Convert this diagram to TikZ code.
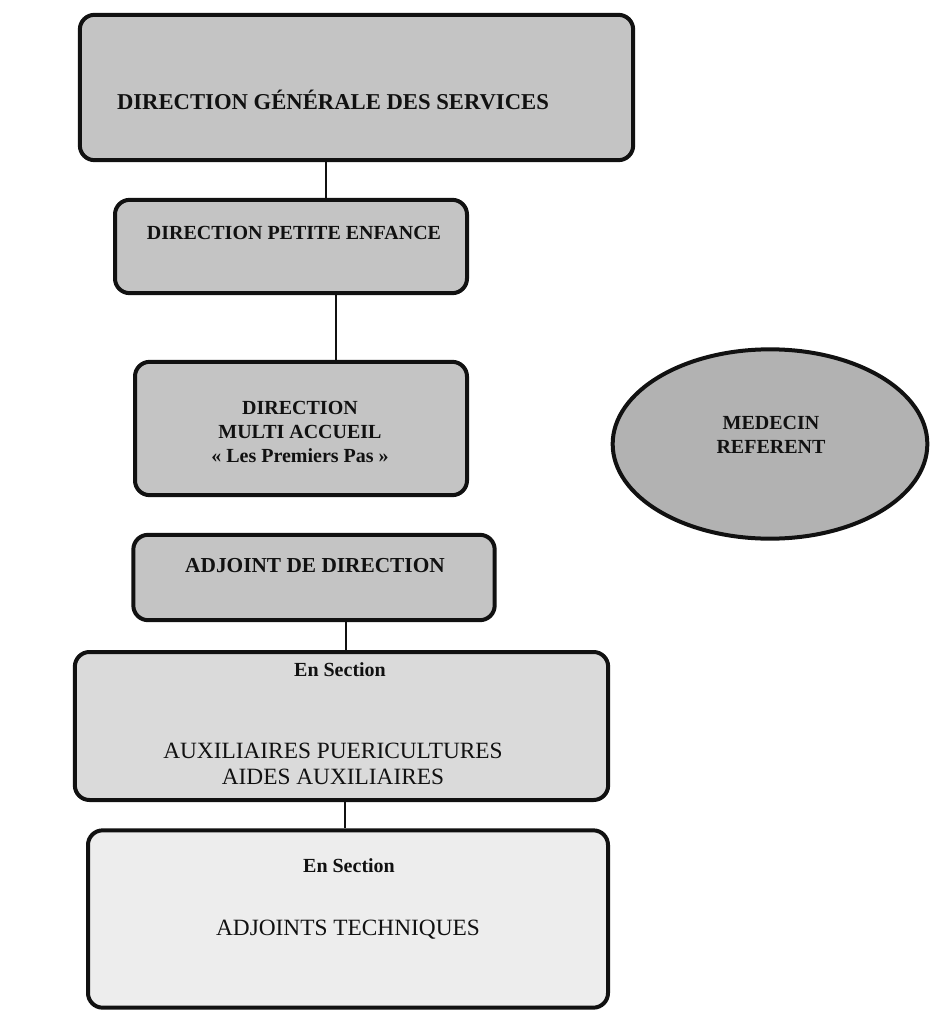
\documentclass[tikz,border=0pt]{standalone}
\usepackage{fontspec}
\setmainfont{Liberation Serif}
\usetikzlibrary{shapes.geometric, positioning, calc}
\definecolor{dkgray}{HTML}{C4C4C4}
\definecolor{mdgray}{HTML}{B2B2B2}
\definecolor{ltgray}{HTML}{DADADA}
\definecolor{pale}{HTML}{EDEDED}
\definecolor{ink}{HTML}{111111}

\begin{document}
\begin{tikzpicture}[
  x=0.75pt, y=-0.75pt,
  box/.style 2 args={
    draw=ink, line width=3pt, fill=#1, rounded corners=11pt,
    minimum width=#2, inner sep=0pt},
  head/.style={font=\fontsize{15}{18}\selectfont\bfseries, text=ink, align=center},
  plain/.style={font=\fontsize{17.5}{19}\selectfont, text=ink, align=center},
  link/.style={line width=0.8pt, ink},
]

% Page frame (929 x 1012 px)
\useasboundingbox (0,0) rectangle (929,1012);

% === Direction generale ===
\node[box={dkgray}{415pt}, minimum height=109pt] (dgs) at (356.5,87.5) {};
\node[head, font=\fontsize{17}{20}\selectfont\bfseries] (dgstxt) at (333,100)
  {DIRECTION GÉNÉRALE DES SERVICES};

% === Direction petite enfance ===
\node[box={dkgray}{264pt}, minimum height=70pt] (dpe) at (291,246.5) {};
\node[head] (dpetxt) at (294,233) {DIRECTION PETITE ENFANCE};

% === Direction multi accueil ===
\node[box={dkgray}{249pt}, minimum height=100pt] (dma) at (301,428.5) {};
\node[head] (dmatxt) at (300,432)
  {DIRECTION\\MULTI ACCUEIL\\« Les Premiers Pas »};

% === Medecin referent ===
\node[draw=ink, line width=3pt, fill=mdgray, ellipse,
  minimum width=236pt, minimum height=142pt] (med) at (770,444) {};
\node[head] (medtxt) at (771,435) {MEDECIN\\REFERENT};

% === Adjoint de direction ===
\node[box={dkgray}{271pt}, minimum height=64pt] (adj) at (314,577.5) {};
\node[head, font=\fontsize{16}{19}\selectfont\bfseries] (adjtxt) at (315,566)
  {ADJOINT DE DIRECTION};

% === Sections ===
\node[box={ltgray}{400pt}, minimum height=111pt] (sec1) at (341.5,726) {};
\node[head, font=\fontsize{15}{18}\selectfont\bfseries] (sec1hd) at (340,670) {En Section};
\node[plain] (sec1txt) at (333,764)
  {AUXILIAIRES PUERICULTURES\\AIDES AUXILIAIRES};

\node[box={pale}{390pt}, minimum height=133pt] (sec2) at (348,919) {};
\node[head, font=\fontsize{15}{18}\selectfont\bfseries] (sec2hd) at (349,866) {En Section};
\node[plain] (sec2txt) at (348,930) {ADJOINTS TECHNIQUES};

% === Links ===
\draw[link] (dgs.south -| 326,0) -- (dpe.north -| 326,0);
\draw[link] (dpe.south -| 336,0) -- (dma.north -| 336,0);
\draw[link] (adj.south -| 346,0) -- (sec1.north -| 346,0);
\draw[link] (sec1.south -| 345,0) -- (sec2.north -| 345,0);

\end{tikzpicture}
\end{document}
